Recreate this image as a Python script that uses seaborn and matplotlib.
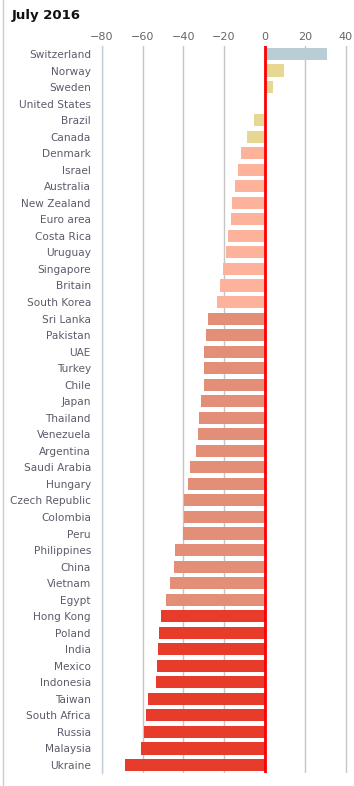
import numpy as np
import pandas as pd
import matplotlib
matplotlib.use('Agg')
import matplotlib.pyplot as plt
import seaborn as sns

countries = ['Switzerland', 'Norway', 'Sweden', 'United States', 'Brazil', 'Canada',
             'Denmark', 'Israel', 'Australia', 'New Zealand', 'Euro area', 'Costa Rica',
             'Uruguay', 'Singapore', 'Britain', 'South Korea', 'Sri Lanka', 'Pakistan',
             'UAE', 'Turkey', 'Chile', 'Japan', 'Thailand', 'Venezuela', 'Argentina',
             'Saudi Arabia', 'Hungary', 'Czech Republic', 'Colombia', 'Peru',
             'Philippines', 'China', 'Vietnam', 'Egypt', 'Hong Kong', 'Poland', 'India',
             'Mexico', 'Indonesia', 'Taiwan', 'South Africa', 'Russia', 'Malaysia', 'Ukraine']
values = [30.8, 9.3, 3.9, 0.0, -5.4, -8.8,
          -11.7, -13.2, -14.7, -16.1, -16.6, -18.1,
          -19.1, -20.5, -22.0, -23.5, -27.9, -28.9,
          -29.8, -29.8, -29.8, -31.3, -32.3, -32.8, -33.7,
          -36.7, -37.6, -39.6, -39.6, -40.1,
          -44.0, -44.5, -46.5, -48.4, -50.9, -51.8, -52.3,
          -52.8, -53.3, -57.2, -58.2, -59.2, -60.6, -68.9]
# colour group per country (0 = blue, 1 = khaki, 2 = light salmon, 3 = salmon, 4 = red)
groups = [0, 1, 1, 1, 1, 1] + [2] * 10 + [3] * 18 + [4] * 10
group_colors = ['#b9cdd7', '#e6d893', '#fdb39b', '#e38e77', '#e73c2c']

df = pd.DataFrame({'country': countries, 'value': values})
bar_colors = [group_colors[g] for g in groups]

fig = plt.figure(figsize=(3.54, 7.86), dpi=100)
ax = fig.add_axes([102 / 354, 1 - 773.3 / 786, 248 / 354, (773.3 - 45.7) / 786])

sns.barplot(data=df, x='value', y='country', hue='country', palette=bar_colors,
            orient='h', width=0.73, legend=False, ax=ax, saturation=1)

ax.set_xlim(-80, 42)
ax.set_ylim(len(countries) - 0.5, -0.5)
ax.set_xticks([-80, -60, -40, -20, 0, 20, 40])
ax.set_xticklabels(['\u221280', '\u221260', '\u221240', '\u221220', '0', '20', '40'])
ax.xaxis.tick_top()
ax.tick_params(axis='x', length=0, pad=3, labelsize=8, labelcolor='#666666')
ax.tick_params(axis='y', length=0, pad=8, labelsize=7.6, labelcolor='#5f5a6a')
ax.set_xlabel('')
ax.set_ylabel('')
ax.grid(axis='x', color='#c6c6c6', linewidth=1)
ax.set_axisbelow(True)
for s in ['top', 'right', 'bottom']:
    ax.spines[s].set_visible(False)
ax.spines['left'].set_color('#c0d0e0')
ax.spines['left'].set_linewidth(1)
ax.axvline(0, color='#ff0000', linewidth=2, zorder=5)

fig.text(12 / 354, 1 - 15 / 786, 'July 2016', fontsize=9.5, fontweight='bold',
         color='#111111', va='center', ha='left')
fig.add_artist(plt.Line2D([2.5 / 354, 2.5 / 354], [0, 1], color='#cccccc', linewidth=1))

plt.savefig('out.png', dpi=100)
